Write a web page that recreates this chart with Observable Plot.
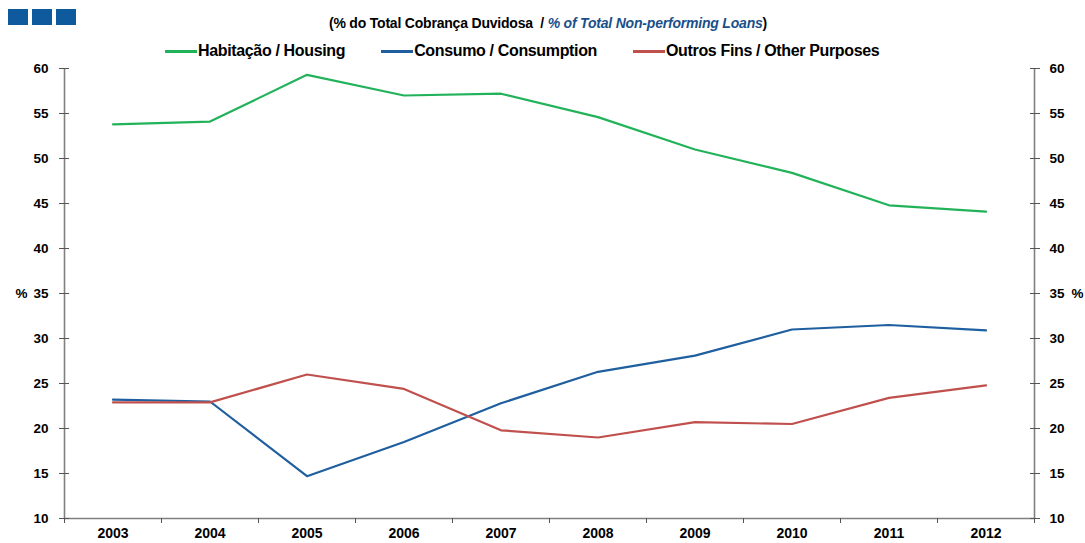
<!DOCTYPE html>
<html>
<head>
<meta charset="utf-8">
<script src="https://cdn.jsdelivr.net/npm/d3@7"></script>
<script src="https://cdn.jsdelivr.net/npm/@observablehq/plot@0.6"></script>
<style>
  html, body { margin: 0; padding: 0; background: #fff; }
  body { width: 1085px; height: 543px; position: relative; overflow: hidden; font-family: "Liberation Sans", Arial, sans-serif; }
  .sq { position: absolute; top: 9px; width: 20px; height: 16px; background: #0f5a9c; }
  #subtitle { position: absolute; top: 15px; left: 0; width: 1096px; text-align: center; font-size: 14px; font-weight: bold; color: #000; letter-spacing: -0.2px; }
  #subtitle i { color: #1a4f8a; }
  #legend { position: absolute; top: 42px; left: 165px; display: flex; align-items: center; font-size: 16px; font-weight: bold; letter-spacing: -0.35px; white-space: nowrap; }
  .item { display: flex; align-items: center; margin-right: 36px; }
  .sw { width: 32px; height: 3px; margin-right: 1px; }
  #chart { position: absolute; top: 60px; left: 0; }
</style>
</head>
<body>
<div class="sq" style="left:8px"></div>
<div class="sq" style="left:32px"></div>
<div class="sq" style="left:56px"></div>
<div id="subtitle">(% do Total Cobrança Duvidosa&nbsp; / <i>% of Total Non-performing Loans</i>)</div>
<div id="legend"></div>
<div id="chart"></div>
<script>
const years = [2003, 2004, 2005, 2006, 2007, 2008, 2009, 2010, 2011, 2012];
const housing = [53.8, 54.1, 59.3, 57.0, 57.2, 54.6, 51.0, 48.4, 44.8, 44.1];
const consumption = [23.2, 23.0, 14.7, 18.5, 22.8, 26.3, 28.1, 31.0, 31.5, 30.9];
const otherPurposes = [22.9, 22.9, 26.0, 24.4, 19.8, 19.0, 20.7, 20.5, 23.4, 24.8];
const seriesNames = ["Habitação / Housing", "Consumo / Consumption", "Outros Fins / Other Purposes"];
const seriesColors = ["#22b35a", "#1f5f9f", "#c0504d"];
const yTicks = [10, 15, 20, 25, 30, 35, 40, 45, 50, 55, 60];
const yUnit = "%";

const seriesValues = [housing, consumption, otherPurposes];
const data = [];
seriesValues.forEach((vals, i) => vals.forEach((v, j) => data.push({series: seriesNames[i], year: years[j], value: v})));

const legend = document.getElementById("legend");
seriesNames.forEach((n, i) => {
  const it = document.createElement("div");
  it.className = "item";
  it.innerHTML = `<div class="sw" style="background:${seriesColors[i]}"></div><span>${n}</span>`;
  legend.appendChild(it);
});

const bounds = d3.range(years[0] - 0.5, years[years.length - 1] + 1, 1);
const axisColor = "#808080";
const fontFam = "'Liberation Sans', Arial, sans-serif";

const chart = Plot.plot({
  width: 1085,
  height: 483,
  marginTop: 8,
  marginBottom: 25,
  marginLeft: 64,
  marginRight: 51,
  style: {fontFamily: fontFam, fontSize: "13.5px", fontWeight: "bold", color: "#000", background: "#fff"},
  x: {domain: [years[0] - 0.5, years[years.length - 1] + 0.5]},
  y: {domain: [10, 60]},
  color: {domain: seriesNames, range: seriesColors},
  marks: [
    Plot.ruleX([bounds[0]], {stroke: axisColor, strokeWidth: 1.6}),
    Plot.ruleX([bounds[bounds.length - 1]], {stroke: axisColor, strokeWidth: 1.6}),
    Plot.ruleY([10], {stroke: axisColor, strokeWidth: 1.6}),
    Plot.axisY({anchor: "left", ticks: yTicks, tickSize: 10, dx: 5, text: null, stroke: "#555", label: null}),
    Plot.axisY({anchor: "left", ticks: yTicks, tickSize: 0, tickPadding: 16, label: null, fill: "#000"}),
    Plot.axisY({anchor: "right", ticks: yTicks, tickSize: 10, dx: -5, text: null, stroke: "#555", label: null}),
    Plot.axisY({anchor: "right", ticks: yTicks, tickSize: 0, tickPadding: 15, label: null, fill: "#000"}),
    Plot.axisX({ticks: bounds, tickSize: 5, text: null, stroke: "#555", label: null}),
    Plot.axisX({ticks: years, tickSize: 0, tickPadding: 10, tickFormat: d => String(d), label: null, fill: "#000", fontSize: 14}),
    Plot.text([35], {y: d => d, frameAnchor: "left", dx: -43, textAnchor: "middle", text: () => yUnit, fontWeight: "bold", fontSize: 13.5}),
    Plot.text([35], {y: d => d, frameAnchor: "right", dx: 43, textAnchor: "middle", text: () => yUnit, fontWeight: "bold", fontSize: 13.5}),
    Plot.line(data, {x: "year", y: "value", z: "series", stroke: "series", strokeWidth: 2.2})
  ]
});
document.getElementById("chart").appendChild(chart);
</script>
</body>
</html>
